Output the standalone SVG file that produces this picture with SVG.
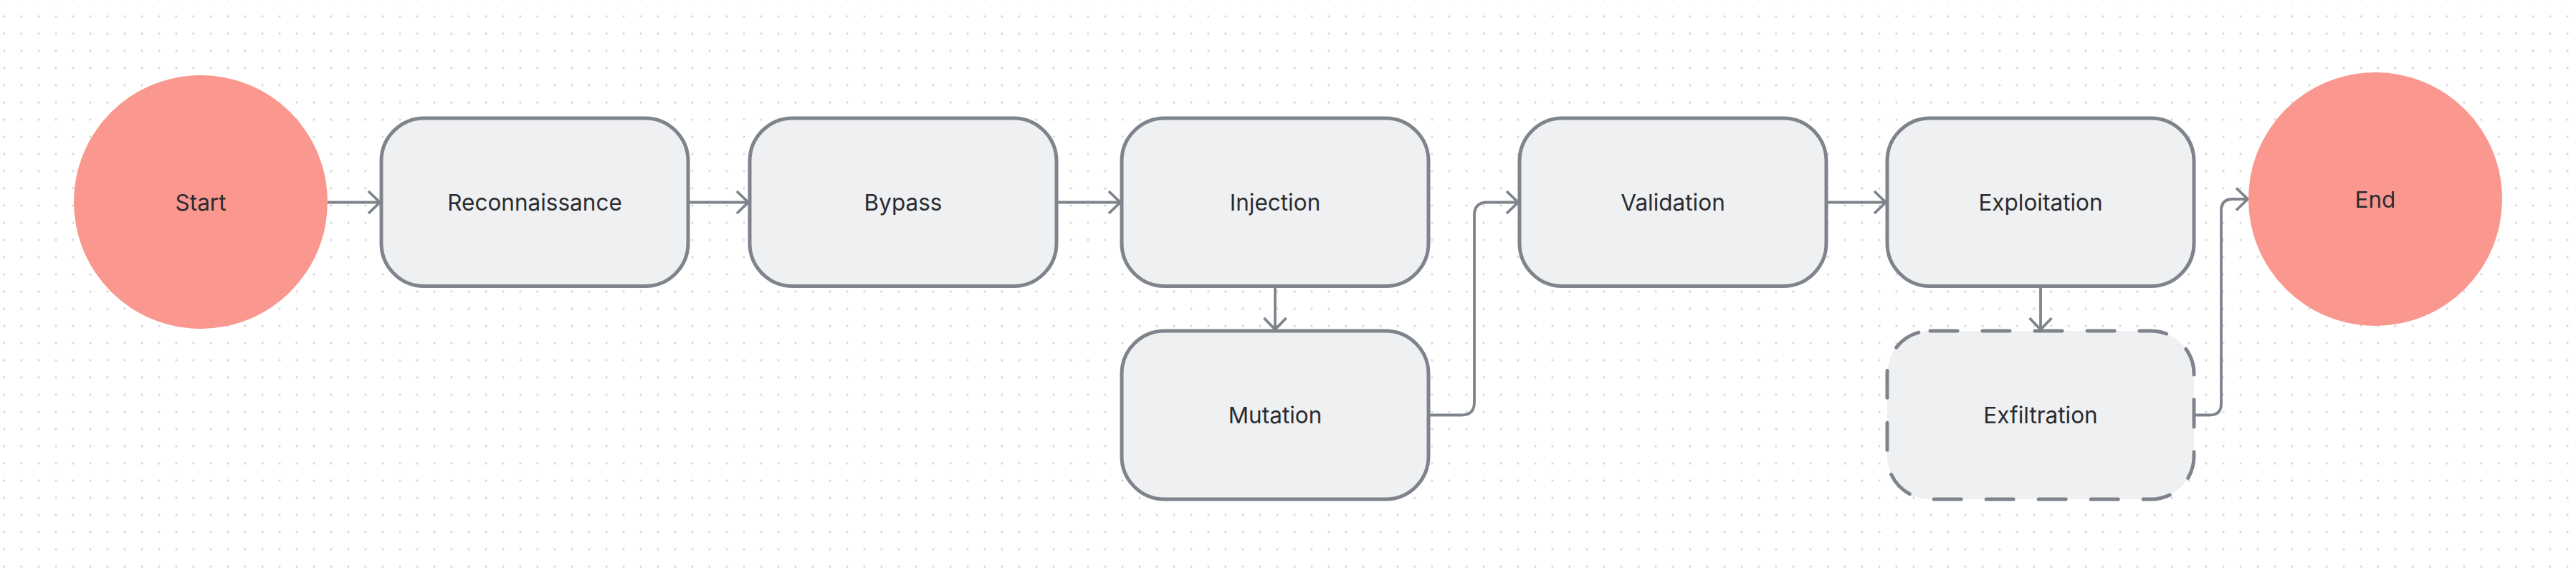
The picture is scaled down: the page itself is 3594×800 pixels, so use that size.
<svg xmlns="http://www.w3.org/2000/svg" width="3594" height="800" viewBox="0 0 3594 800">
<defs>
<pattern id="dots" x="-6" y="11" width="24" height="24" patternUnits="userSpaceOnUse">
<circle cx="12" cy="12" r="1.7" fill="#d9dae2"/>
</pattern>
<marker id="arr" viewBox="-20 -20 24 40" markerWidth="24" markerHeight="40" refX="0" refY="0" orient="auto" markerUnits="userSpaceOnUse">
<path d="M -16 -15.5 L 0 0 L -16 15.5" fill="none" stroke="#7f848c" stroke-width="3.8"/>
</marker>
<style>
.box{fill:#eff0f2;stroke:#7f848c;stroke-width:5}
.dash{stroke-dasharray:38 35;stroke-linecap:round}
.term{fill:#fa978e}
.lbl{font-family:Inter,"Liberation Sans",sans-serif;font-size:31.5px;fill:#2a2c30;text-anchor:middle}
.conn{fill:none;stroke:#7f848c;stroke-width:3.8;marker-end:url(#arr)}
</style>
</defs>
<rect width="3594" height="800" fill="#ffffff"/>
<rect width="3594" height="800" fill="url(#dots)"/>
<g id="connectors">
<path class="conn" d="M 457 282.5 L 530 282.5"/>
<path class="conn" d="M 960 282.5 L 1044 282.5"/>
<path class="conn" d="M 1474 282.5 L 1563 282.5"/>
<path class="conn" d="M 1779 399 L 1779 460"/>
<path class="conn" d="M 1993 579.5 L 2039 579.5 Q 2057 579.5 2057 561.5 L 2057 300.5 Q 2057 282.5 2075 282.5 L 2118 282.5"/>
<path class="conn" d="M 2548 282.5 L 2631 282.5"/>
<path class="conn" d="M 2847 399 L 2847 460"/>
<path class="conn" d="M 3061 579.5 L 3083 579.5 Q 3099 579.5 3099 563.5 L 3099 294 Q 3099 278 3115 278 L 3136 278"/>
</g>
<g id="start">
<circle class="term" cx="280" cy="282" r="177"/>
<text class="lbl" x="280" y="293.5">Start</text>
</g>
<g id="reconnaissance">
<rect class="box" x="532" y="165" width="428" height="234.5" rx="60"/>
<text class="lbl" x="746" y="293.5">Reconnaissance</text>
</g>
<g id="bypass">
<rect class="box" x="1046" y="165" width="428" height="234.5" rx="60"/>
<text class="lbl" x="1260" y="293.5">Bypass</text>
</g>
<g id="injection">
<rect class="box" x="1565" y="165" width="428" height="234.5" rx="60"/>
<text class="lbl" x="1779" y="293.5">Injection</text>
</g>
<g id="mutation">
<rect class="box" x="1565" y="462" width="428" height="235" rx="60"/>
<text class="lbl" x="1779" y="591">Mutation</text>
</g>
<g id="validation">
<rect class="box" x="2120" y="165" width="428" height="234.5" rx="60"/>
<text class="lbl" x="2334" y="293.5">Validation</text>
</g>
<g id="exploitation">
<rect class="box" x="2633" y="165" width="428" height="234.5" rx="60"/>
<text class="lbl" x="2847" y="293.5">Exploitation</text>
</g>
<g id="exfiltration">
<rect class="box dash" x="2633" y="462" width="428" height="235" rx="60"/>
<text class="lbl" x="2847" y="591">Exfiltration</text>
</g>
<g id="end">
<circle class="term" cx="3314" cy="278" r="177"/>
<text class="lbl" x="3314" y="289.5">End</text>
</g>
</svg>
